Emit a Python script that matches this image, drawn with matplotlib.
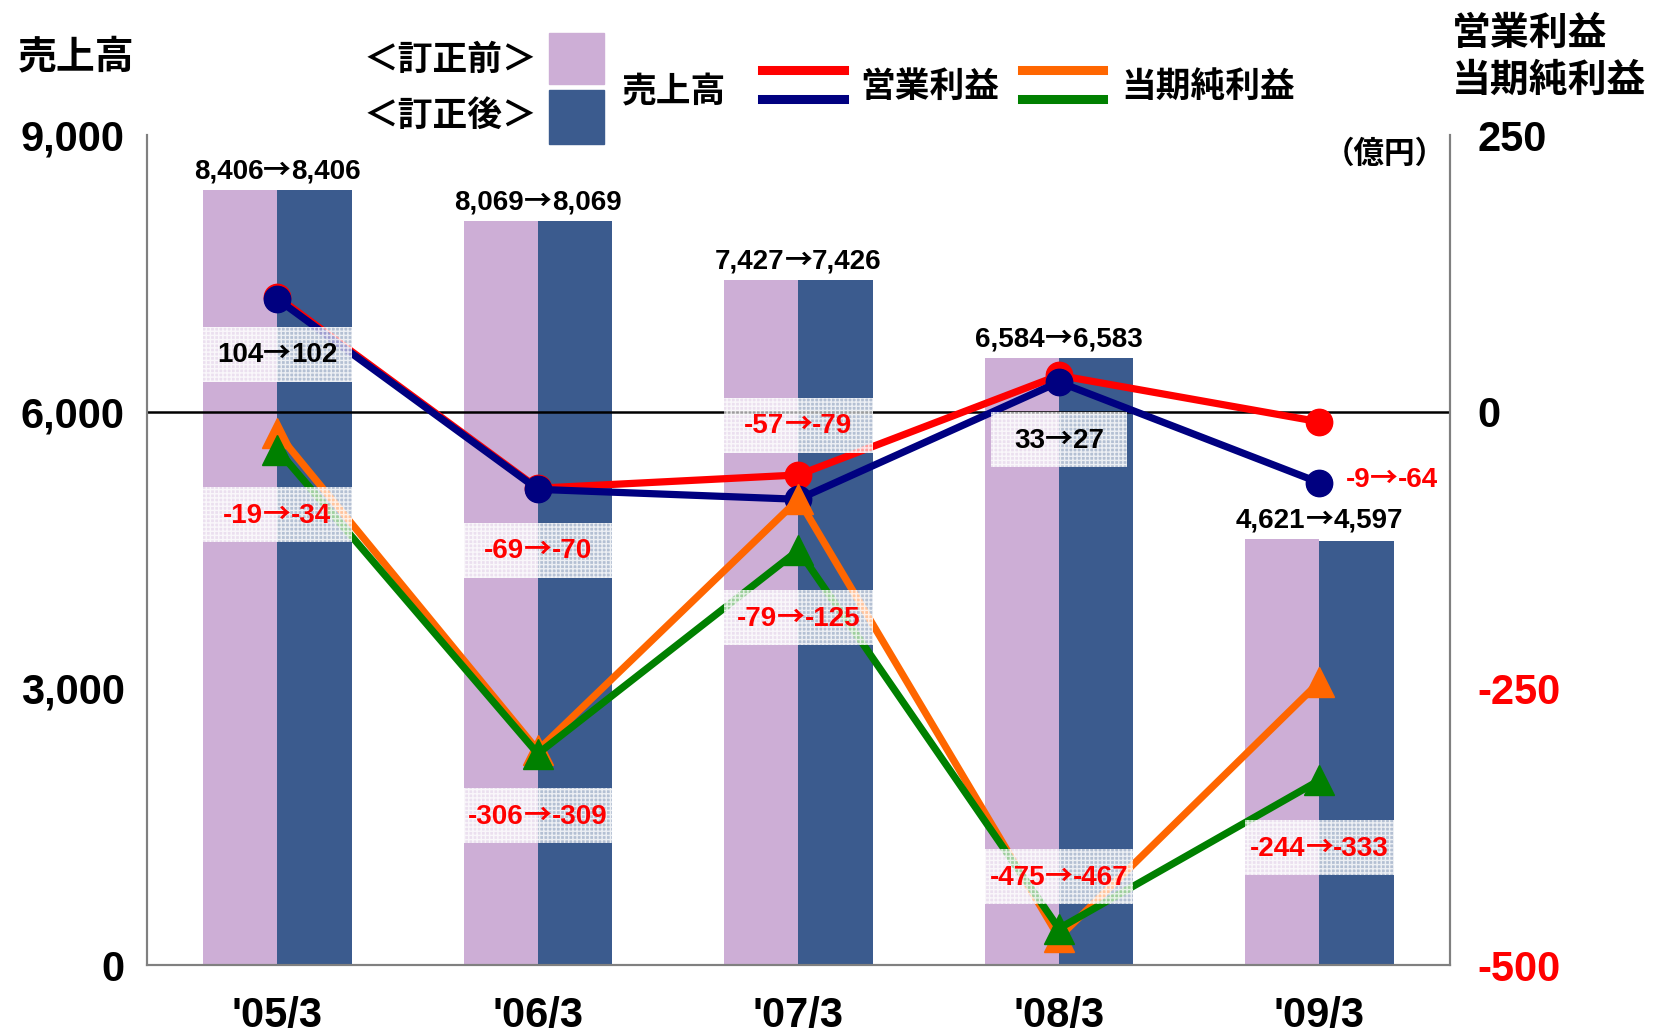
import numpy as np
import matplotlib.pyplot as plt
from matplotlib.patches import Rectangle
from matplotlib.lines import Line2D
from matplotlib.offsetbox import TextArea, HPacker, AnnotationBbox

plt.rcParams['font.family'] = ['Liberation Sans', 'Noto Sans CJK JP', 'DejaVu Sans']
JP = ['Noto Sans CJK JP', 'Liberation Sans']

# data
years = ["'05/3", "'06/3", "'07/3", "'08/3", "'09/3"]
sales_before = [8406, 8069, 7427, 6584, 4621]
sales_after = [8406, 8069, 7426, 6583, 4597]
op_before = [104, -69, -57, 33, -9]
op_after = [102, -70, -79, 27, -64]
net_before = [-19, -306, -79, -475, -244]
net_after = [-34, -309, -125, -467, -333]

# label positions (right axis units) for the profit labels
op_label_y = [52, -125, -12, -25, -61]
net_label_y = [-93, -365, -186, -420, -394]

c_purple = '#CDAED6'
c_blue = '#3B5B8E'
c_red = '#FF0000'
c_navy = '#000080'
c_orange = '#FF6600'
c_green = '#008000'


def arrow_label(a, b, col, size=20):
    # number in Liberation Sans, full width arrow from the CJK font
    tp = dict(fontsize=size, fontweight='bold', color=col)
    parts = [TextArea(a, textprops=tp),
             TextArea('→', textprops=dict(tp, family=JP)),
             TextArea(b, textprops=tp)]
    return HPacker(children=parts, sep=0, pad=0, align='baseline')


fig = plt.figure(figsize=(16.55, 10.33), dpi=100)
ax = fig.add_axes([0.0888, 0.0658, 0.876 - 0.0888, 0.869 - 0.0658])
ax2 = ax.twinx()

x = np.arange(len(years))
w = 0.285
ax.bar(x - w / 2, sales_before, w, color=c_purple, zorder=1)
ax.bar(x + w / 2, sales_after, w, color=c_blue, zorder=1)
ax.axhline(6000, color='black', lw=1.8, zorder=2)

for i in range(len(years)):
    top = max(sales_before[i], sales_after[i])
    ab = AnnotationBbox(arrow_label(f'{sales_before[i]:,}', f'{sales_after[i]:,}', 'black'),
                        (x[i], top), xybox=(0, 4), xycoords='data', boxcoords='offset points',
                        box_alignment=(0.5, 0), frameon=False, pad=0)
    ab.set_zorder(6)
    ax.add_artist(ab)

ax.set_xlim(-0.5, 4.5)
ax.set_ylim(0, 9000)
ax.set_yticks([0, 3000, 6000, 9000])
ax.set_yticklabels(['0', '3,000', '6,000', '9,000'])
ax.set_xticks(x)
ax.set_xticklabels(years)
ax.tick_params(axis='both', length=0, labelsize=30, width=0)
ax.tick_params(axis='x', pad=22)
ax.tick_params(axis='y', pad=16)
for lab in ax.get_xticklabels() + ax.get_yticklabels():
    lab.set_fontweight('bold')

ax2.set_ylim(-500, 250)
ax2.set_yticks([250, 0, -250, -500])
ax2.set_yticklabels(['250', '0', '-250', '-500'])
ax2.tick_params(axis='y', length=0, labelsize=30, pad=20)
for lab, col in zip(ax2.get_yticklabels(), ['black', 'black', c_red, c_red]):
    lab.set_fontweight('bold')
    lab.set_color(col)

for a in (ax, ax2):
    a.spines['top'].set_visible(False)
    for s in ('left', 'bottom', 'right'):
        a.spines[s].set_color('#808080')
        a.spines[s].set_linewidth(1.5)

ax2.plot(x, op_before, color=c_red, lw=5.2, marker='o', ms=19, zorder=3)
ax2.plot(x, op_after, color=c_navy, lw=5.2, marker='o', ms=19, zorder=3)
ax2.plot(x, net_before, color=c_orange, lw=5.2, marker='^', ms=22, zorder=3)
ax2.plot(x, net_after, color=c_green, lw=5.2, marker='^', ms=22, zorder=3)

box_h = 50
for i in range(len(years)):
    for kind, yy, b, a_ in (('op', op_label_y[i], op_before[i], op_after[i]),
                            ('net', net_label_y[i], net_before[i], net_after[i])):
        col = 'black' if b > 0 else c_red
        lab = arrow_label(str(b), str(a_), col)
        if i == 4 and kind == 'op':
            ab = AnnotationBbox(lab, (x[i] + 0.1, yy), xycoords='data',
                                box_alignment=(0, 0.5), frameon=False, pad=0)
        else:
            bw = 0.52 if (i == 3 and kind == 'op') else 2 * w
            ax2.add_patch(Rectangle((x[i] - bw / 2, yy - box_h / 2), bw, box_h,
                                    facecolor=(1, 1, 1, 0.62), edgecolor=(1, 1, 1, 0.75),
                                    hatch='++++', lw=0, zorder=5))
            ab = AnnotationBbox(lab, (x[i], yy), xycoords='data',
                                box_alignment=(0.5, 0.5), frameon=False, pad=0)
        ab.set_zorder(6)
        ax2.add_artist(ab)

# headers
fig.text(0.0105, 0.945, '売上高', family=JP, fontsize=28, fontweight='bold', va='center')
fig.text(0.877, 0.968, '営業利益', family=JP, fontsize=28, fontweight='bold', va='center')
fig.text(0.877, 0.922, '当期純利益', family=JP, fontsize=28, fontweight='bold', va='center')
fig.text(0.837, 0.851, '（億円）', family=JP, fontsize=22, fontweight='bold', va='center', ha='center')

# legend
fig.text(0.272, 0.942, '＜訂正前＞', family=JP, fontsize=25, fontweight='bold', va='center', ha='center')
fig.text(0.272, 0.888, '＜訂正後＞', family=JP, fontsize=25, fontweight='bold', va='center', ha='center')
fig.patches.append(Rectangle((549 / 1655, 1 - 84 / 1033), 55 / 1655, 51 / 1033,
                             transform=fig.transFigure, color=c_purple, figure=fig))
fig.patches.append(Rectangle((549 / 1655, 1 - 144 / 1033), 55 / 1655, 54 / 1033,
                             transform=fig.transFigure, color=c_blue, figure=fig))
fig.text(0.376, 0.911, '売上高', family=JP, fontsize=25, fontweight='bold', va='center')
for (x0, x1, yy, col) in ((762, 844, 70, c_red), (762, 844, 99, c_navy),
                          (1022, 1103, 70, c_orange), (1022, 1103, 99, c_green)):
    fig.lines.append(Line2D([x0 / 1655, x1 / 1655], [1 - yy / 1033] * 2, lw=6.5,
                            color=col, transform=fig.transFigure, figure=fig))
fig.text(860 / 1655, 0.916, '営業利益', family=JP, fontsize=25, fontweight='bold', va='center')
fig.text(1121 / 1655, 0.916, '当期純利益', family=JP, fontsize=25, fontweight='bold', va='center')

plt.savefig('out.png', dpi=100)
